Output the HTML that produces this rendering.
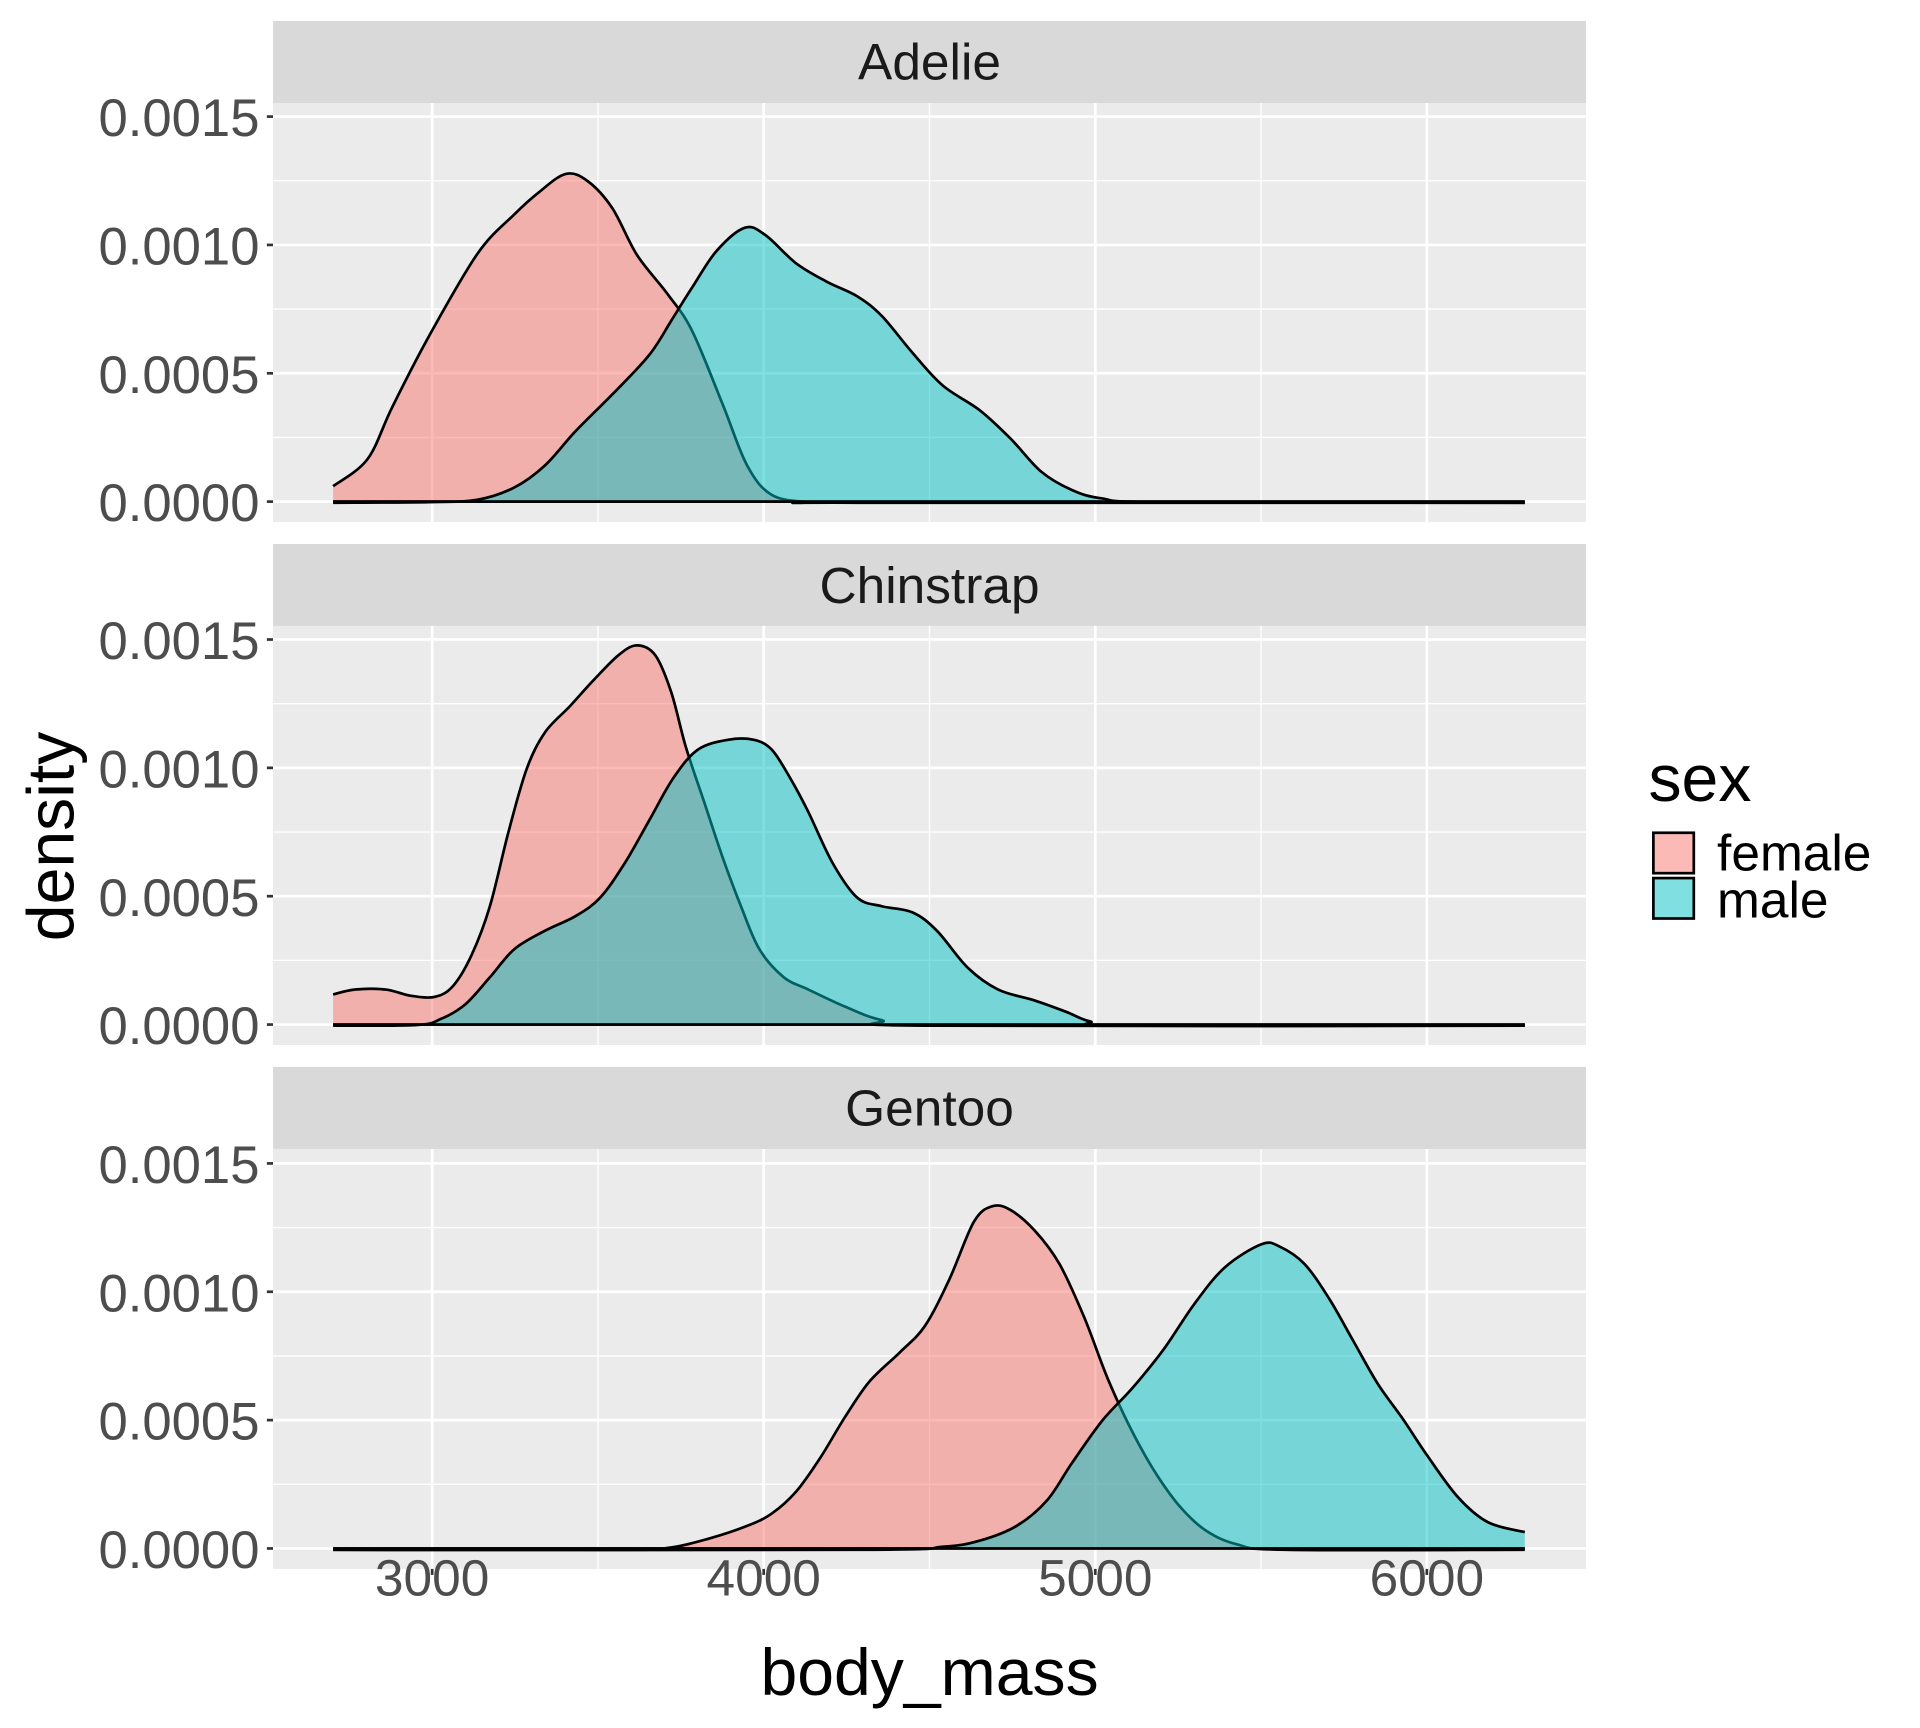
<!DOCTYPE html>
<html><head><meta charset="utf-8"><style>
html,body{margin:0;padding:0;background:#fff;}
svg{display:block;}
text{font-family:"Liberation Sans",sans-serif;}
</style></head><body>
<svg id="s" width="1920" height="1728" viewBox="0 0 1567.7 1411" preserveAspectRatio="none" xmlns="http://www.w3.org/2000/svg">
<g id="g"></g>
<text x="759" y="1384" font-size="54" text-anchor="middle" fill="#000">body_mass</text>
<text transform="translate(60,683) rotate(-90)" font-size="54" text-anchor="middle" fill="#000">density</text>
<text x="1346" y="654" font-size="54" fill="#000">sex</text>
<rect x="1350" y="680" width="33" height="33" fill="#F8766D" fill-opacity="0.5" stroke="#000" stroke-width="2.2"/>
<rect x="1350" y="717" width="33" height="33" fill="#00BFC4" fill-opacity="0.5" stroke="#000" stroke-width="2.2"/>
<text x="1402" y="711" font-size="42" fill="#000">female</text>
<text x="1402" y="749" font-size="42" fill="#000">male</text>
</svg>
<script>
var NS="http://www.w3.org/2000/svg",g=document.getElementById('g');
function el(t,a,txt){var e=document.createElementNS(NS,t);for(var k in a)e.setAttribute(k,a[k]);if(txt!=null)e.textContent=txt;g.appendChild(e);return e;}
var L=222.9,R=1295;
function X(m){return L+(m-2520)*0.27073;}
var panels=[{st:17.1,pt:84.1,pb:426.3,name:"Adelie"},{st:444.2,pt:511.1,pb:853.3,name:"Chinstrap"},{st:871.2,pt:938.2,pb:1281.1,name:"Gentoo"}];
function smooth(p){var d="M"+p[0][0]+","+p[0][1];for(var i=0;i<p.length-1;i++){var p0=p[i-1]||p[i],p1=p[i],p2=p[i+1],p3=p[i+2]||p2;
var c1x=p1[0]+(p2[0]-p0[0])/6,c1y=p1[1]+(p2[1]-p0[1])/6,c2x=p2[0]-(p3[0]-p1[0])/6,c2y=p2[1]-(p3[1]-p1[1])/6;
d+=" C"+c1x.toFixed(1)+","+c1y.toFixed(1)+" "+c2x.toFixed(1)+","+c2y.toFixed(1)+" "+p2[0]+","+p2[1];}return d;}
var curves=[
[[[272,397],[300,375],[320,333],[350,275],[390,207],[420,175],[440,157],[462,142],[480,148],[500,170],[520,208],[545,240],[565,270],[590,330],[610,380],[630,404],[660,410],[700,410.5],[1245,410.5]],
 [[272,410.5],[350,410],[390,408],[420,398],[445,380],[470,352],[500,322],[530,290],[548,262],[565,235],[585,205],[608,186],[625,192],[650,215],[675,230],[700,242],[720,258],[745,288],[770,315],[800,335],[825,358],[850,385],[875,400],[900,407],[950,410],[1245,410.5]]],
[[[272,812],[290,808],[315,808],[335,813],[355,814],[370,805],[385,780],[400,740],[415,680],[430,628],[445,598],[465,577],[485,555],[505,535],[520,527],[535,535],[548,565],[560,610],[575,655],[590,700],[605,740],[620,775],[640,798],[660,808],[690,822],[720,833],[760,837.5],[1245,837.5]],
 [[272,837.5],[340,837],[360,832],[380,820],[400,798],[420,775],[445,760],[470,748],[490,733],[510,705],[530,670],[550,635],[570,612],[595,604],[615,604],[630,612],[645,635],[660,663],[680,705],[700,733],[720,740],[745,745],[765,760],[790,790],[815,808],[845,817],[870,826],[890,834],[920,837.5],[1245,837.5]]],
[[[272,1265.5],[500,1265.5],[545,1264],[580,1256],[610,1246],[630,1236],[650,1218],[670,1190],[690,1157],[710,1128],[735,1104],[755,1083],[775,1045],[795,998],[810,985],[825,988],[845,1005],[865,1032],[885,1075],[905,1127],[925,1170],[945,1205],[965,1232],[985,1250],[1010,1261],[1050,1265.5],[1245,1265.5]],
 [[272,1265.5],[700,1265.5],[770,1263],[800,1258],[830,1246],[855,1225],[875,1195],[900,1160],[925,1133],[950,1102],[975,1065],[1000,1035],[1030,1016],[1045,1018],[1065,1032],[1085,1060],[1105,1095],[1125,1130],[1145,1158],[1165,1188],[1190,1222],[1215,1243],[1245,1251]]]
];
var cols=["#F8766D","#00BFC4"];
panels.forEach(function(p,i){
 el('rect',{x:L,y:p.st,width:R-L,height:p.pt-p.st,fill:"#D9D9D9"});
 el('text',{x:(L+R)/2,y:p.st+48,"font-size":42,"text-anchor":"middle",fill:"#1A1A1A"},p.name);
 el('rect',{x:L,y:p.pt,width:R-L,height:p.pb-p.pt,fill:"#EBEBEB"});
 var y0=p.pb-16.7;
 function Y(d){return y0-d*209.6;}
 [0.25,0.75,1.25].forEach(function(d){el('line',{x1:L,x2:R,y1:Y(d),y2:Y(d),stroke:"#fff","stroke-width":1.1});});
 [3500,4500,5500].forEach(function(m){el('line',{x1:X(m),x2:X(m),y1:p.pt,y2:p.pb,stroke:"#fff","stroke-width":1.1});});
 [0,0.5,1,1.5].forEach(function(d){el('line',{x1:L,x2:R,y1:Y(d),y2:Y(d),stroke:"#fff","stroke-width":2.2});
  el('line',{x1:L-5,x2:L,y1:Y(d),y2:Y(d),stroke:"#333","stroke-width":2.2});
  el('text',{x:L-11,y:Y(d)+16,"font-size":43,"text-anchor":"end",fill:"#4D4D4D"},d===0?"0.0000":(d/1000).toFixed(4));});
 [3000,4000,5000,6000].forEach(function(m){el('line',{x1:X(m),x2:X(m),y1:p.pt,y2:p.pb,stroke:"#fff","stroke-width":2.2});});
 var base=y0;
 curves[i].forEach(function(c,j){
  var d=smooth(c);
  var last=c[c.length-1];
  el('path',{d:d+" L"+last[0]+","+base+" L"+c[0][0]+","+base+" Z",fill:cols[j],"fill-opacity":0.5,stroke:"none"});
  el('path',{d:d,fill:"none",stroke:"#000","stroke-width":2.2});
  el('line',{x1:c[0][0],x2:last[0],y1:base,y2:base,stroke:"#000","stroke-width":2.2});
 });
});
[3000,4000,5000,6000].forEach(function(m){
 el('line',{x1:X(m),x2:X(m),y1:1281.1,y2:1286,stroke:"#333","stroke-width":2.2});
 el('text',{x:X(m),y:1303,"font-size":42,"text-anchor":"middle",fill:"#4D4D4D"},m);
});
</script>
</body></html>
